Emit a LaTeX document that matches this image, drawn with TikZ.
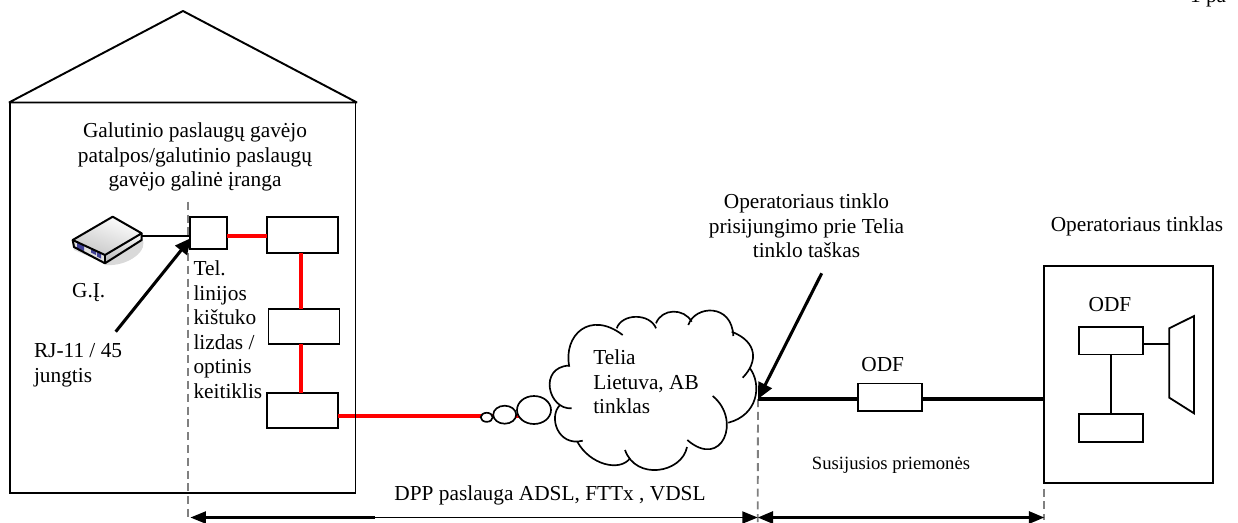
\documentclass[tikz,border=0pt]{standalone}
\usepackage{fontspec}
\setmainfont{Liberation Serif}
\usetikzlibrary{arrows.meta,calc,shapes.geometric}
\definecolor{dashgray}{RGB}{128,128,128}
\tikzset{
  boxn/.style={draw=black,line width=1.35pt,inner sep=0pt,outer sep=0pt,fill=white},
  thinl/.style={draw=black,line width=1.3pt},
  redl/.style={draw=red,line width=2.6pt},
  thickl/.style={draw=black,line width=3pt},
  dashl/.style={draw=dashgray,line width=1.4pt,dash pattern=on 6pt off 3.6pt},
  tipa/.style={-{Triangle[length=12pt,width=11pt]},draw=black,line width=2.3pt},
  spanl/.style={{Triangle[length=11.5pt,width=9pt]}-{Triangle[length=11.5pt,width=9pt]},draw=black,line width=1.4pt},
  lab/.style={inner sep=0pt,outer sep=0pt,font=\fontsize{16}{18.4}\selectfont,align=left},
  labc/.style={lab,align=center},
  cloudl/.style={draw=black,line width=1.25pt},
  bub/.style={draw=black,line width=1.25pt,fill=white,shape=ellipse,inner sep=0pt,outer sep=0pt}
}
\begin{document}
\begin{tikzpicture}[x=0.75pt,y=-0.75pt]
\clip (0,0) rectangle (1238,522);
\fill[white] (0,0) rectangle (1238,522);
% named points
\coordinate (dev) at (142,236);
\coordinate (pt) at (758,399);
\coordinate (rjs) at (115.7,331.7);
\coordinate (rjt) at (191,238);
\coordinate (ops) at (821.7,273.3);
\coordinate (lt) at (187.7,201.7);
\coordinate (lb) at (187.7,520);
\coordinate (mb) at (757.7,522);
\coordinate (rb) at (1044.3,520);
\coordinate (sl) at (190.5,517.5);
\coordinate (sm) at (757.7,517.5);
\coordinate (sr) at (1044.3,517.5);
\coordinate (slk) at (375,517.5);
\coordinate (rx) at (301,0);
\coordinate (vx) at (1111.3,0);
\coordinate (bigc) at (534,416);
% boxes
\node[boxn,minimum width=28pt,minimum height=24.2pt] (b1) at (208.6,232.8) {};
\node[boxn,minimum width=53.2pt,minimum height=27pt] (b2) at (302.2,234.7) {};
\node[boxn,minimum width=53.2pt,minimum height=26.5pt] (b3) at (304,326.7) {};
\node[boxn,minimum width=53.2pt,minimum height=26.7pt] (b4) at (302.2,410.5) {};
% red lines
\draw[redl] (b1.east |- dev) -- (b2.west |- dev);
\draw[redl] (b2.south -| rx) -- (b3.north -| rx);
\draw[redl] (b3.south -| rx) -- (b4.north -| rx);
\draw[redl] (b4.east |- bigc) -- (bigc);
% bubbles
\node[bub,minimum width=25.5pt,minimum height=21pt] (big) at (534,410) {};
\node[bub,minimum width=17.2pt,minimum height=13.5pt] (med) at (504.7,414.7) {};
\node[bub,minimum width=9pt,minimum height=6.8pt] (sma) at (486.7,417.3) {};
% house
\draw[draw=black,line width=1.45pt] (10,102.5) rectangle (355.5,492.7);
\draw[draw=black,line width=1.45pt,line join=bevel] (9,102.5) -- (183,11) -- (357,102.5) -- cycle;
% dashed
\draw[dashl] (lt) -- (lb);
\draw[dashl] (pt) -- (mb);
\draw[dashl] (pt -| rb) -- (rb);
% device
\fill[black!15] (141.7,238) .. controls (150,250) and (128,267) .. (105,265) -- cycle;
\shade[left color=white,right color=black!30,shading angle=0] (105,255) -- (141.7,233.3) -- (141.7,240) -- (105,263.3) -- cycle;
\shade[top color=white,bottom color=black!22,shading angle=-20] (72.7,240) -- (112.7,216.7) -- (141.7,233.3) -- (105,255) -- cycle;
\fill[black!12] (72.7,240) -- (105,255) -- (105,263.3) -- (74,250) -- cycle;
\fill[blue!45!black!75] (77,242.5) -- (84,245.5) -- (84,251) -- (77,248) -- cycle;
\fill[blue!45!black!75] (91,249) -- (96,251.5) -- (96,255) -- (91,252.5) -- cycle;
\fill[blue!45!black!75] (97,252) -- (101,254) -- (101,258.5) -- (97,256.5) -- cycle;
\draw[black,line width=1.5pt,line join=round] (72.7,240) -- (112.7,216.7) -- (141.7,233.3) -- (105,255) -- cycle;
\draw[black,line width=1.5pt,line join=round] (72.7,240) -- (74,247) -- (105,263.3) -- (141.7,240) -- (141.7,233.3);
\draw[black,line width=1pt] (105,255) -- (105,263.3);
\draw[thinl] (dev) -- (b1.west |- dev);
% arrows
\draw[tipa] (rjs) -- (rjt);
\draw[tipa] (ops) -- (pt);
% cloud
\draw[cloudl] (569.3,366.7) .. controls (563,335) and (590,310) .. (622.7,335);
\draw[cloudl] (616.7,328.3) .. controls (622,313) and (650,313) .. (656,328.3);
\draw[cloudl] (656,323.3) .. controls (662,308) and (684,308) .. (691.7,321.7);
\draw[cloudl] (688.3,325) .. controls (695,305) and (732,303) .. (733.3,336);
\draw[cloudl] (731.7,331.7) .. controls (758,342) and (758,362) .. (742.7,377.7);
\draw[cloudl] (750,368.3) .. controls (762,385) and (758,415) .. (728.3,422.7);
\draw[cloudl] (712.7,396) .. controls (742,420) and (722,470) .. (687.3,440);
\draw[cloudl] (687,447) .. controls (682,473) and (636,481) .. (625,450);
\draw[cloudl] (630,458.3) .. controls (620,472) and (590,465) .. (577.3,441.7);
\draw[cloudl] (582.7,440.7) .. controls (558,447) and (548,417) .. (560,405);
\draw[cloudl] (571.7,408.3) .. controls (548,410) and (538,367) .. (569.3,365.5);
% right part
\node[boxn,fill=none,minimum width=127pt,minimum height=163pt] (op) at (1128.7,374.7) {};
\node[boxn,minimum width=48pt,minimum height=20.6pt] (odf) at (890.3,397.2) {};
\node[boxn,minimum width=48pt,minimum height=20.6pt] (o1) at (1110.7,340.8) {};
\node[boxn,minimum width=48pt,minimum height=20.6pt] (o2) at (1110.7,428) {};
\draw[thickl] (pt) -- (odf.west |- pt);
\draw[thickl] (odf.east |- pt) -- (op.west |- pt);
\draw[thinl] (o1.south -| vx) -- (o2.north -| vx);
\coordinate (tr) at (1169.3,344);
\draw[thinl] (o1.east |- tr) -- (tr);
\draw[draw=black,line width=1.35pt,line join=miter] (1169.3,328.3) -- (1194,316) -- (1194,413.3) -- (1169.3,397.7) -- cycle;
% spans
\draw[spanl] (sl) -- (sm);
\draw[spanl,line width=2pt] (sm) -- (sr);
\draw[draw=black,line width=2.2pt] ($(sl)+(12,0)$) -- (slk);
% labels
\node[labc] (t1) at (195,157) {Galutinio paslaugų gavėjo\\patalpos/galutinio paslaugų\\gavėjo galinė įranga};
\node[lab] (t2) at (88.7,293) {G.Į.};
\node[lab,anchor=west] (t3) at (34,365) {RJ-11 / 45\\jungtis};
\node[lab,anchor=west] (t4) at (193.5,329.5) {Tel.\\linijos\\kištuko\\lizdas /\\optinis\\keitiklis};
\node[lab,anchor=west] (t5) at (593.3,382) {Telia\\Lietuva, AB\\tinklas};
\node[labc] (t6) at (806.5,226) {Operatoriaus tinklo\\prisijungimo prie Telia\\tinklo taškas};
\node[lab] (t7) at (1137,226) {Operatoriaus tinklas};
\node[lab] (t8) at (882.7,365) {ODF};
\node[lab] (t9) at (1110,305) {ODF};
\node[lab] (t10) at (550,495) {DPP paslauga ADSL, FTTx , VDSL};
\node[lab,font=\fontsize{14}{16}\selectfont] (t11) at (891,465) {Susijusios priemonės};
\node[lab,anchor=base west] (t12) at (1190,2) {1 pa};
\end{tikzpicture}
\end{document}
